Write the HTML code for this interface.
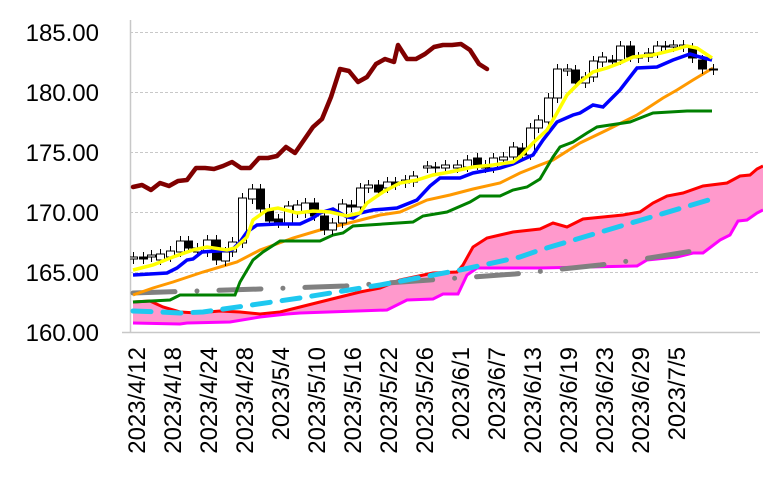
<!DOCTYPE html>
<html><head><meta charset="utf-8"><style>
html,body{margin:0;padding:0;background:#fff;}
svg{display:block;font-family:"Liberation Sans",sans-serif;}
</style></head><body>
<svg width="763" height="489" viewBox="0 0 763 489" xmlns="http://www.w3.org/2000/svg">
<defs><clipPath id="c"><rect x="130" y="20" width="633" height="312"/></clipPath></defs>
<g stroke="#c8c8c8" stroke-width="1" stroke-dasharray="3,2">
<line x1="130" y1="32.5" x2="760" y2="32.5"/>
<line x1="130" y1="92.5" x2="760" y2="92.5"/>
<line x1="130" y1="152.5" x2="760" y2="152.5"/>
<line x1="130" y1="212.5" x2="760" y2="212.5"/>
<line x1="130" y1="272.5" x2="760" y2="272.5"/>
</g>
<line x1="130.5" y1="20" x2="130.5" y2="332" stroke="#c8c8c8" stroke-width="1.5"/>
<line x1="122" y1="332.5" x2="760" y2="332.5" stroke="#c8c8c8" stroke-width="1.5"/>
<g font-size="24" text-anchor="end" fill="#000">
<text x="99" y="41">185.00</text>
<text x="99" y="101">180.00</text>
<text x="99" y="161">175.00</text>
<text x="99" y="221">170.00</text>
<text x="99" y="281">165.00</text>
<text x="99" y="341">160.00</text>
</g>
<g font-size="24" text-anchor="end" fill="#000" id="xl"></g>
<g clip-path="url(#c)">
<polygon fill="#ff99cc" points="133,302 150,301 163,307 180,312 197,313 220,311 240,312 260,314 280,312 300,307 320,302 340,297 360,292 380,288 400,280 433,273 457,272 463,265 473,247 487,238 500,235 513,232 540,229 553,223 567,227 583,219 603,217 623,215 640,212 653,203 667,196 683,193 703,186 727,183 740,176 750,175 757,169 763,166 763,210 757,213 747,220 738,221 730,235 720,240 703,253 693,253 677,257 647,260 637,266 540,268 477,268 467,275 458,294 443,294 433,299 407,300 387,310 300,313 287,314 260,317 230,322 187,323 133,323"/>
<polyline fill="none" stroke="#ff0000" stroke-width="3" points="133,302 150,301 163,307 180,312 197,313 220,311 240,312 260,314 280,312 300,307 320,302 340,297 360,292 380,288 400,280 433,273 457,272 463,265 473,247 487,238 500,235 513,232 540,229 553,223 567,227 583,219 603,217 623,215 640,212 653,203 667,196 683,193 703,186 727,183 740,176 750,175 757,169 763,166"/>
<polyline fill="none" stroke="#ff00ff" stroke-width="3" points="133,323 180,324 187,323 230,322 260,317 287,314 300,313 387,310 407,300 433,299 443,294 458,294 467,275 477,268 540,268 637,266 647,260 677,257 693,253 703,253 720,240 730,235 738,221 747,220 757,213 763,210"/>
<polyline fill="none" stroke="#808080" stroke-width="5" stroke-linecap="round" stroke-dasharray="42 22 0 22" points="133,293 260,289 345,286 430,280 515,274 600,265 643,259 705,249"/>
<polyline fill="none" stroke="#1ec8f0" stroke-width="5" stroke-linecap="round" stroke-dasharray="18 12" points="133,311 160,312 180,313 203,312 300,298 380,285 460,270 520,257 540,250 712,199"/>
<polyline fill="none" stroke="#ff9900" stroke-width="3" points="133,295 153,288 173,282 203,272 237,262 260,250 293,238 320,230 353,222 380,215 400,212 427,200 450,195 473,189 500,183 520,173 540,165 553,160 580,143 607,130 637,115 663,98 677,90 693,80 713,68"/>
<polyline fill="none" stroke="#008000" stroke-width="3" points="133,302 170,300 180,295 235,295 240,282 253,260 263,252 280,241 320,241 333,235 343,233 353,226 413,222 423,216 447,212 470,202 480,196 500,196 513,190 527,187 540,179 553,157 560,147 573,142 587,133 597,127 630,122 653,113 687,111 712,111"/>
<g id="cd" stroke="#000" stroke-width="1"></g>
<polyline fill="none" stroke="#0000ff" stroke-width="3.5" points="133,275 167,273 177,268 187,260 193,259 202,252 232,250 240,242 247,232 257,225 277,224 300,224 313,218 320,213 333,209 347,217 353,218 360,213 373,210 397,208 417,200 430,186 440,178 460,178 473,173 500,168 513,164 533,155 543,140 557,122 573,115 580,113 593,105 603,107 620,90 637,68 657,67 673,60 690,54 700,57 712,60"/>
<polyline fill="none" stroke="#ffff00" stroke-width="3.5" points="133,270 153,265 173,257 193,250 207,247 227,250 235,248 247,237 253,220 267,210 278,208 297,213 313,211 330,212 347,216 360,213 367,203 383,192 400,183 417,180 433,175 450,172 473,167 493,165 513,162 520,157 533,143 547,130 557,113 567,95 580,82 593,72 607,68 620,63 633,57 653,55 673,50 687,46 697,48 712,58"/>
<polyline fill="none" stroke="#800000" stroke-width="4.5" stroke-linejoin="round" stroke-linecap="round" points="133,187 142,185 151,190 160,183 169,186 178,181 187,180 196,168 205,168 214,169 223,166 232,162 241,168 250,168 259,158 268,158 277,156 286,147 295,153 304,140 313,127 322,119 331,97 340,69 349,71 358,82 367,77 376,64 385,59 394,62 398,45 407,59 416,59 425,54 434,47 443,45 452,45 461,44 470,50 479,64 487,69"/>
</g>
</svg>
<script>
var labels=["2023/4/12","2023/4/18","2023/4/24","2023/4/28","2023/5/4","2023/5/10","2023/5/16","2023/5/22","2023/5/26","2023/6/1","2023/6/7","2023/6/13","2023/6/19","2023/6/23","2023/6/29","2023/7/5"];
var ns="http://www.w3.org/2000/svg",g=document.getElementById("xl");
labels.forEach(function(l,i){var x=136+36*i+9;var t=document.createElementNS(ns,"text");t.setAttribute("transform","translate("+x+",347) rotate(-90)");t.textContent=l;g.appendChild(t);});
var c=[[133,257,259,0],[143,257,259,1],[151,255,257,0],[160,254,260,0],[170,251,257,0],[180,241,252,0],[188,241,248,1],[197,248,252,0],[207,240,252,0],[216,240,260,1],[225,252,261,0],[232,242,252,0],[242,198,243,0],[252,189,199,0],[260,189,209,1],[269,209,221,1],[278,219,223,1],[288,206,223,0],[297,205,213,0],[305,203,213,0],[314,203,216,1],[324,216,230,1],[332,223,230,0],[342,204,223,0],[351,205,207,1],[360,188,207,0],[368,185,188,0],[378,185,192,1],[387,182,188,0],[395,182,185,1],[405,180,183,0],[413,176,182,0],[427,166,168,0],[435,167,168,1],[445,165,168,0],[457,165,168,0],[467,160,167,0],[477,158,165,1],[485,165,168,1],[493,158,168,0],[503,157,160,0],[513,147,157,0],[522,148,155,1],[530,128,155,0],[538,120,128,0],[548,98,122,0],[557,69,98,0],[567,69,71,0],[575,70,83,1],[585,77,83,0],[593,61,77,0],[602,57,62,0],[612,60,62,1],[620,46,60,0],[630,46,57,1],[638,57,58,0],[648,53,57,0],[657,46,53,0],[665,46,47,0],[673,45,47,0],[683,45,47,0],[692,48,58,1],[702,60,69,1],[713,69,70,0]];
var cd=document.getElementById("cd");
c.forEach(function(d){var l=document.createElementNS(ns,"line");l.setAttribute("x1",d[0]+.5);l.setAttribute("x2",d[0]+.5);l.setAttribute("y1",d[1]-5);l.setAttribute("y2",d[2]+5);cd.appendChild(l);
var r=document.createElementNS(ns,"rect");r.setAttribute("x",d[0]-3.5);r.setAttribute("y",d[1]);r.setAttribute("width",8);r.setAttribute("height",Math.max(1,d[2]-d[1]));r.setAttribute("fill",d[3]?"#000":"#fff");cd.appendChild(r);});
</script>
</body></html>
